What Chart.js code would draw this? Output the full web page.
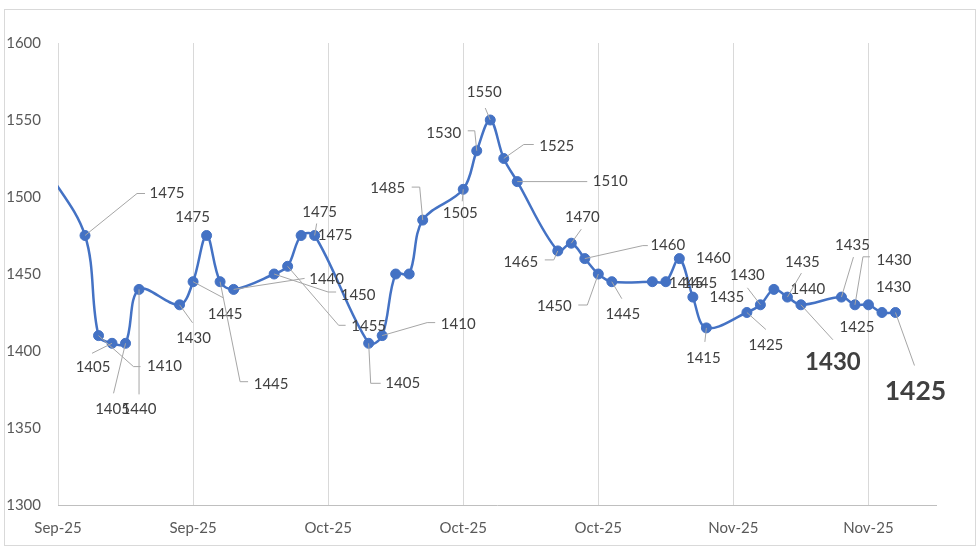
<!DOCTYPE html>
<html lang="en">
<head>
<meta charset="UTF-8">
<title>Precio</title>
<script src="https://cdn.jsdelivr.net/npm/chart.js@4.4.1/dist/chart.umd.min.js"></script>
<style>
  html, body { margin: 0; padding: 0; background: #fff; }
  #wrap { width: 980px; height: 550px; }
</style>
</head>
<body>
<div id="wrap"><canvas id="priceChart" width="980" height="550"></canvas></div>
<script>
// trading days (first one sits just before the axis start and gets clipped)
const dates = [
  '2025-09-19',
  '2025-09-22', '2025-09-23', '2025-09-24', '2025-09-25', '2025-09-26',
  '2025-09-29', '2025-09-30', '2025-10-01', '2025-10-02', '2025-10-03',
  '2025-10-06', '2025-10-07', '2025-10-08', '2025-10-09',
  '2025-10-13', '2025-10-14', '2025-10-15', '2025-10-16', '2025-10-17',
  '2025-10-20', '2025-10-21', '2025-10-22', '2025-10-23', '2025-10-24',
  '2025-10-27', '2025-10-28', '2025-10-29', '2025-10-30', '2025-10-31',
  '2025-11-03', '2025-11-04', '2025-11-05', '2025-11-06', '2025-11-07',
  '2025-11-10', '2025-11-11', '2025-11-12', '2025-11-13', '2025-11-14',
  '2025-11-17', '2025-11-18', '2025-11-19', '2025-11-20', '2025-11-21'
];
const prices = [
  1520,
  1475, 1410, 1405, 1405, 1440,
  1430, 1445, 1475, 1445, 1440,
  1450, 1455, 1475, 1475,
  1405, 1410, 1450, 1450, 1485,
  1505, 1530, 1550, 1525, 1510,
  1465, 1470, 1460, 1450, 1445,
  1445, 1445, 1460, 1435, 1415,
  1425, 1430, 1440, 1435, 1430,
  1435, 1430, 1430, 1425, 1425
];
const xTickLabels = ['Sep-25', 'Sep-25', 'Oct-25', 'Oct-25', 'Oct-25', 'Nov-25', 'Nov-25'];
const yTicks = [1300, 1350, 1400, 1450, 1500, 1550, 1600];
const axisStart = '2025-09-20';
const tickEvery = 10;   // days between date ticks
const axisDays = 65;

// label placement, one per point: [dx, dy, leader elbows, font size, bold]
const labelSpots = [
  null,
  [82, -42, [[52, -42], [60, -42]]], [66, 31, [[35, 31], [42, 31]]], [-19, 24, [[-20, 10]]],
  [-13, 66, [[-12, 50]]], [0, 120, [[0, 105]]],
  [14, 33, [[13, 18]]], [32, 32, [[30, 16]]], [-14, -18], [51, 102, [[20, 100], [28, 100]]],
  [93, -10, [[71, -11]]],
  [84, 21, [[54, 18], [62, 18]]], [81, 60, [[51, 59], [58, 59]]], [34, 0], [5, -23, [[2, -12]]],
  [34, 40, [[2, 40], [12, 40]]], [76, -11, [[45, -13], [53, -13]]], null, null,
  [-35, -32, [[-3, -33], [-11, -33]]],
  [-3, 24, [[-1, 12]]], [-33, -18, [[-2, -20], [-9, -20]]], [-6, -28, [[-5, -12]]],
  [53, -12, [[20, -14], [30, -14]]], [93, 0, [[70, 0]]],
  [-37, 11, [[-4, 9], [-13, 9]]], [11, -26, [[10, -14]]], [83, -13, [[58, -13], [63, -13]]],
  [-44, 32, [[-11, 31], [-20, 31]]], [11, 32, [[10, 17]]],
  [34, 1], [34, 1], [34, 0], [34, 0], [-3, 30, [[-1.5, 14]]],
  [19, 33, [[19, 17]]], [-13, -30, [[-13, -17]]], [34, 0], [15, -35, [[14, -24]]],
  [32, 57, [[32, 35]], 24, true],
  [11, -52, [[12, -40]]], [39, -45, [[8, -48], [15, -48]]], [25, -18], [-25, 15],
  [20, 79, [[19, 53]], 26.5, true]
];

const FONT = 'Lato, "Open Sans", sans-serif';
const dayMs = 86400000;
const points = dates.map((d, i) => ({
  x: (Date.parse(d) - Date.parse(axisStart)) / dayMs,
  y: prices[i]
}));

const framePlugin = {
  id: 'frame',
  beforeDraw(chart) {
    const c = chart.ctx;
    c.save();
    c.fillStyle = '#fff';
    c.fillRect(0, 0, chart.width, chart.height);
    c.strokeStyle = '#d9d9d9';
    c.lineWidth = 1;
    c.strokeRect(4.5, 9.5, 971, 536);
    c.restore();
  }
};

const labelPlugin = {
  id: 'pointLabels',
  afterDatasetsDraw(chart) {
    const c = chart.ctx;
    const meta = chart.getDatasetMeta(0);
    c.save();
    meta.data.forEach((pt, i) => {
      const spot = labelSpots[i];
      if (!spot) return;
      const [dx, dy, leader, size, bold] = spot;
      if (leader) {
        c.strokeStyle = '#a6a6a6';
        c.lineWidth = 1;
        c.beginPath();
        c.moveTo(pt.x, pt.y);
        leader.forEach(p => c.lineTo(pt.x + p[0], pt.y + p[1]));
        c.stroke();
      }
      c.fillStyle = '#404040';
      c.font = (bold ? 'bold ' : '') + (size || 15) + 'px ' + FONT;
      c.textAlign = 'center';
      c.textBaseline = 'middle';
      c.fillText(String(prices[i]), pt.x + dx, pt.y + dy);
    });
    c.restore();
  }
};

new Chart(document.getElementById('priceChart'), {
  type: 'line',
  data: {
    datasets: [{
      data: points,
      borderColor: '#4472C4',
      backgroundColor: '#4472C4',
      borderWidth: 2.5,
      tension: 0.35,
      pointRadius: 5,
      pointBackgroundColor: '#4472C4',
      pointBorderColor: '#4472C4',
      pointBorderWidth: 1
    }]
  },
  options: {
    responsive: false,
    animation: false,
    layout: { padding: { top: 43, right: 44, bottom: 0, left: 0 } },
    plugins: { legend: { display: false }, tooltip: { enabled: false } },
    scales: {
      x: {
        type: 'linear',
        min: 0,
        max: axisDays,
        afterFit: s => { s.height = 45; },
        grid: { color: '#d9d9d9', drawTicks: false },
        border: { color: '#bfbfbf', width: 1 },
        ticks: {
          stepSize: tickEvery,
          includeBounds: false,
          autoSkip: false,
          maxRotation: 0,
          padding: 14,
          color: '#595959',
          font: { family: FONT, size: 15 },
          callback: v => xTickLabels[Math.round(v / tickEvery)] || ''
        }
      },
      y: {
        min: yTicks[0],
        max: yTicks[yTicks.length - 1],
        afterFit: s => { s.width = 58; },
        grid: { display: false, drawTicks: false },
        border: { display: false },
        ticks: {
          stepSize: yTicks[1] - yTicks[0],
          padding: 17,
          color: '#595959',
          font: { family: FONT, size: 15 },
          callback: v => String(v)
        }
      }
    }
  },
  plugins: [framePlugin, labelPlugin]
});
</script>
</body>
</html>
